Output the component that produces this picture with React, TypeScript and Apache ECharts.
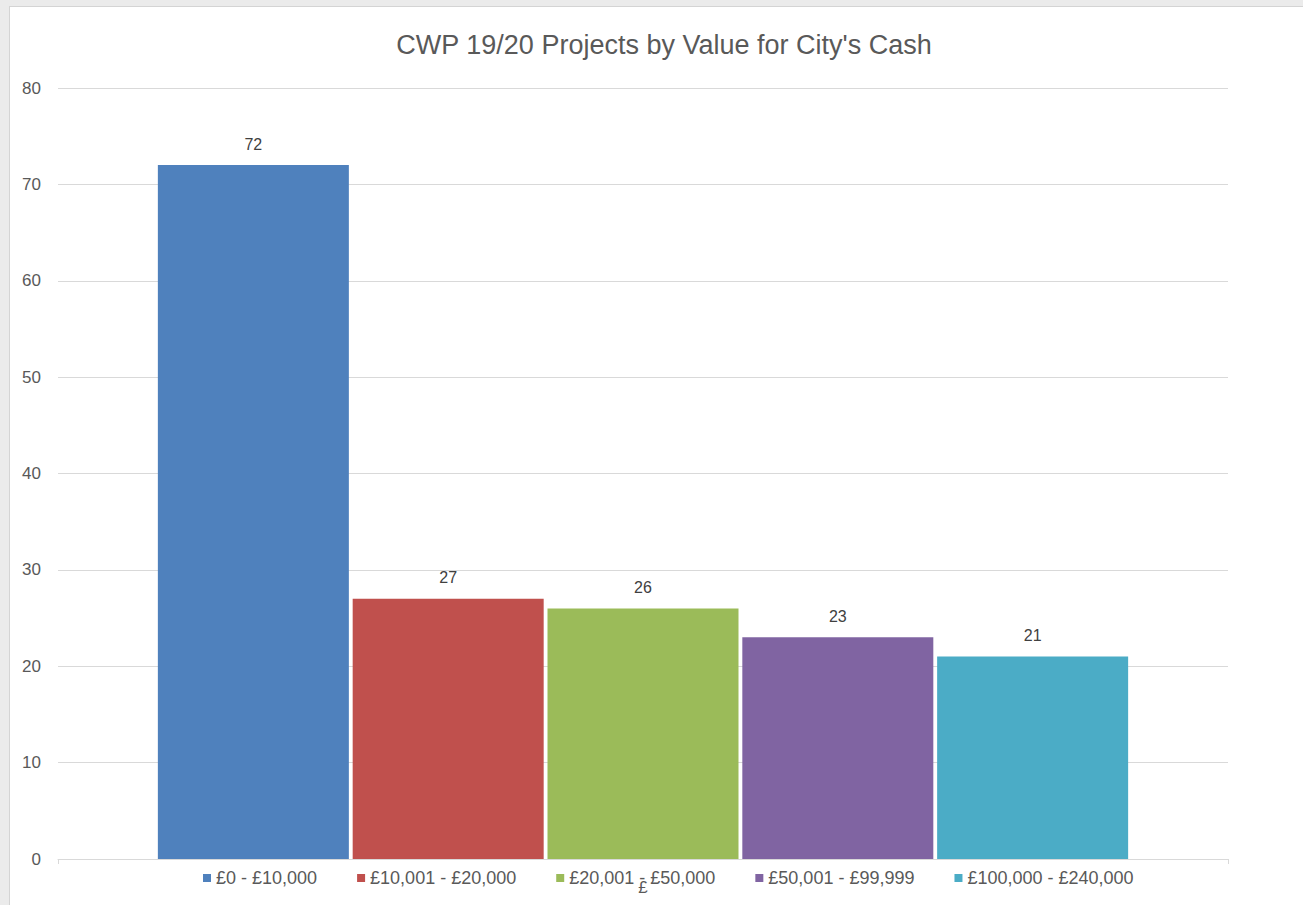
import React, { useEffect, useRef } from "react";
import * as echarts from "echarts";

const title = "CWP 19/20 Projects by Value for City's Cash";
const categories = ["£"];
const seriesNames = ["£0 - £10,000", "£10,001 - £20,000", "£20,001 - £50,000", "£50,001 - £99,999", "£100,000 - £240,000"];
const seriesValues = [72, 27, 26, 23, 21];
const seriesColors = ["#4f81bd", "#c0504d", "#9bbb59", "#8064a2", "#4bacc6"];

const FONT = "'Liberation Sans', Arial, sans-serif";

export default function App() {
  const ref = useRef<HTMLDivElement>(null);
  useEffect(() => {
    if (!ref.current) return;
    const chart = echarts.init(ref.current, undefined, { renderer: "svg" });
    chart.setOption({
      animation: false,
      backgroundColor: "#ffffff",
      textStyle: { fontFamily: FONT },
      title: {
        text: title,
        left: 659,
        textAlign: "center",
        top: 26,
        textStyle: { fontFamily: FONT, fontSize: 27, fontWeight: "normal", color: "#595959" },
      },
      graphic: [
        { type: "rect", shape: { x: 0, y: 0, width: 1303, height: 6 }, style: { fill: "#ebebeb" }, silent: true },
        { type: "rect", shape: { x: 0, y: 0, width: 9, height: 905 }, style: { fill: "#ebebeb" }, silent: true },
        { type: "line", shape: { x1: 9.5, y1: 6, x2: 9.5, y2: 905 }, style: { stroke: "#d4d4d4", lineWidth: 1 }, silent: true },
        { type: "line", shape: { x1: 9, y1: 6.5, x2: 1303, y2: 6.5 }, style: { stroke: "#d4d4d4", lineWidth: 1 }, silent: true },
      ],
      legend: {
        bottom: 13,
        left: 198,
        icon: "rect",
        itemWidth: 8,
        itemHeight: 8,
        itemGap: 40,
        data: seriesNames,
        textStyle: { fontFamily: FONT, fontSize: 18, color: "#595959" },
      },
      grid: { left: 58, right: 75, top: 88, bottom: 46, containLabel: false },
      xAxis: {
        type: "category",
        data: categories,
        axisLine: { lineStyle: { color: "#d9d9d9" } },
        axisTick: { show: true, length: 5, lineStyle: { color: "#d9d9d9" } },
        axisLabel: { color: "#595959", fontSize: 17, margin: 20, fontFamily: FONT },
      },
      yAxis: {
        type: "value",
        min: 0,
        max: 80,
        interval: 10,
        axisLine: { show: false },
        axisTick: { show: false },
        splitLine: { lineStyle: { color: "#d9d9d9", width: 1 } },
        axisLabel: { color: "#595959", fontSize: 17, margin: 17, fontFamily: FONT },
      },
      series: seriesNames.map((name, i) => ({
        name,
        type: "bar",
        barWidth: 191,
        barGap: "2%",
        data: [seriesValues[i]],
        itemStyle: { color: seriesColors[i] },
        label: {
          show: true,
          position: "top",
          distance: 13,
          color: "#404040",
          fontSize: 16,
          fontFamily: FONT,
        },
      })),
    });
    return () => chart.dispose();
  }, []);
  return (
    <div style={{ position: "fixed", left: 0, top: 0, width: 1303, height: 905 }}>
      <div ref={ref} style={{ width: 1303, height: 905 }} />
    </div>
  );
}
